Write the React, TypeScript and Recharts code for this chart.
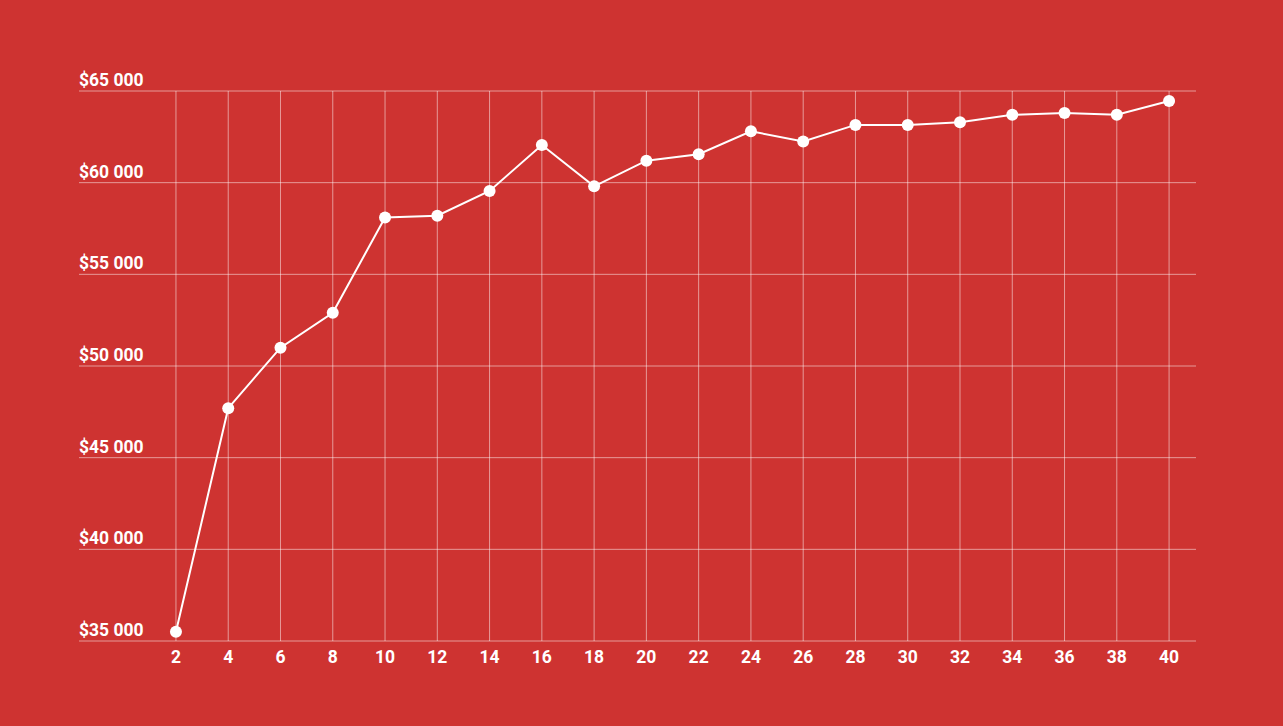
import React from 'react';
import { LineChart, Line, XAxis, YAxis, CartesianGrid, ReferenceLine } from 'recharts';

const years = [2, 4, 6, 8, 10, 12, 14, 16, 18, 20, 22, 24, 26, 28, 30, 32, 34, 36, 38, 40];
const salary = [
  35500, 47700, 51000, 52900, 58100, 58200, 59550, 62050, 59800, 61200,
  61550, 62800, 62250, 63150, 63150, 63300, 63700, 63800, 63700, 64450,
];
const yTicks = [35000, 40000, 45000, 50000, 55000, 60000, 65000];

const data = years.map((y, i) => ({ year: y, salary: salary[i] }));

const BG = '#CE3331';
const LEFT = 79;
const FONT = 'Roboto, "Noto Sans", sans-serif';
const GRID = 'rgba(255,255,255,0.5)';

const fmt = (v: number) => '$' + String(v).replace(/\B(?=(\d{3})+(?!\d))/g, ' ');

const YTick = (props: any) => {
  const { y, payload } = props;
  return (
    <text x={LEFT} y={y - 5} textAnchor="start" fill="#fff" fontSize={17.5} fontWeight={700} fontFamily={FONT}>
      {fmt(payload.value)}
    </text>
  );
};

const App: React.FC = () => {
  return (
    <div style={{ position: 'absolute', top: 0, left: 0, width: 1283, height: 726, background: BG }}>
      <LineChart width={1283} height={726} data={data} margin={{ top: 91, right: 87, left: 19, bottom: 55 }}>
        <CartesianGrid stroke={GRID} vertical={false} />
        {years.map((y) => (
          <ReferenceLine key={y} x={y} stroke={GRID} strokeWidth={1} />
        ))}
        <XAxis
          dataKey="year"
          type="number"
          domain={[-1.71, 41.03]}
          ticks={years}
          height={30}
          axisLine={false}
          tickLine={false}
          tickMargin={4}
          tick={{ fill: '#fff', fontSize: 17.5, fontWeight: 700, fontFamily: FONT }}
        />
        <YAxis
          width={60}
          domain={[35000, 65000]}
          ticks={yTicks}
          axisLine={false}
          tickLine={false}
          interval={0}
          tick={<YTick />}
        />
        <Line
          type="linear"
          dataKey="salary"
          stroke="#fff"
          strokeWidth={2}
          dot={{ r: 6, fill: '#fff', stroke: 'none' }}
          activeDot={false}
          isAnimationActive={false}
        />
      </LineChart>
    </div>
  );
};

export default App;
